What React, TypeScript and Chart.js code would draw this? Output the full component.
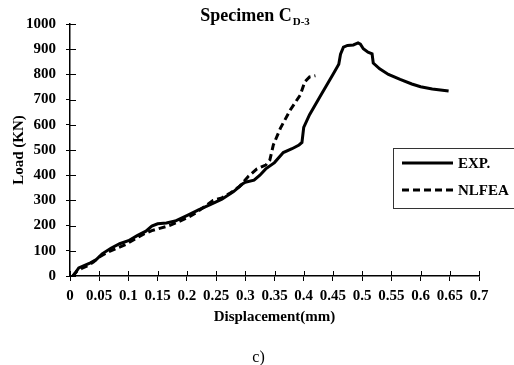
import { useEffect, useRef } from "react";
import { Chart, registerables } from "chart.js";

Chart.register(...registerables);

// Experimental load–displacement record
const expDisp = [0.005, 0.01, 0.015, 0.025, 0.035, 0.045, 0.055, 0.07, 0.085, 0.1, 0.115, 0.13, 0.14, 0.15, 0.165, 0.18, 0.2, 0.22, 0.24, 0.26, 0.28, 0.295, 0.3, 0.315, 0.325, 0.335, 0.35, 0.365, 0.38, 0.392, 0.397, 0.4, 0.41, 0.43, 0.45, 0.46, 0.463, 0.468, 0.475, 0.485, 0.493, 0.497, 0.502, 0.51, 0.517, 0.519, 0.53, 0.545, 0.565, 0.585, 0.6, 0.62, 0.648];
const expLoad = [0, 15, 32, 42, 52, 65, 88, 110, 128, 140, 160, 178, 198, 207, 210, 218, 240, 262, 283, 305, 335, 365, 372, 380, 400, 425, 450, 490, 505, 520, 530, 590, 640, 720, 800, 840, 880, 908, 915, 917, 925, 920, 902, 888, 882, 845, 822, 800, 780, 762, 751, 742, 734];

// Nonlinear finite element prediction
const feaDisp = [0.005, 0.012, 0.02, 0.03, 0.04, 0.05, 0.065, 0.08, 0.095, 0.11, 0.125, 0.14, 0.155, 0.17, 0.185, 0.2, 0.215, 0.23, 0.245, 0.26, 0.275, 0.29, 0.305, 0.32, 0.335, 0.342, 0.348, 0.36, 0.377, 0.394, 0.402, 0.41, 0.42];
const feaLoad = [0, 20, 30, 40, 55, 75, 95, 110, 125, 145, 165, 180, 190, 200, 215, 230, 250, 275, 300, 310, 330, 355, 395, 425, 440, 460, 520, 586, 659, 718, 771, 790, 795];

const xTicks = [0, 0.05, 0.1, 0.15, 0.2, 0.25, 0.3, 0.35, 0.4, 0.45, 0.5, 0.55, 0.6, 0.65, 0.7];
const yTicks = [0, 100, 200, 300, 400, 500, 600, 700, 800, 900, 1000];

const seriesNames = ["EXP.", "NLFEA"];
const titleMain = "Specimen C";
const titleSub = "D-3";
const panelTag = "c)";
const xTitle = "Displacement(mm)";
const yTitle = "Load (KN)";

const SERIF = '"Liberation Serif", "Times New Roman", serif';
const DASH = [7, 4];

const decorPlugin = {
  id: "decor",
  afterDraw(chart: any) {
    const ctx: CanvasRenderingContext2D = chart.ctx;
    const { left, right, top, bottom } = chart.chartArea;
    const xs = chart.scales.x;
    const ys = chart.scales.y;
    ctx.save();

    // inner half of the crossing tick marks
    ctx.strokeStyle = "#000";
    ctx.lineWidth = 1;
    ctx.beginPath();
    xTicks.forEach((v) => {
      const px = Math.round(xs.getPixelForValue(v)) + 0.5;
      ctx.moveTo(px, bottom);
      ctx.lineTo(px, bottom - 5);
    });
    yTicks.forEach((v) => {
      const py = Math.round(ys.getPixelForValue(v)) + 0.5;
      ctx.moveTo(left, py);
      ctx.lineTo(left + 6, py);
    });
    ctx.stroke();

    // title with subscript
    ctx.fillStyle = "#000";
    ctx.textBaseline = "alphabetic";
    ctx.textAlign = "left";
    ctx.font = `bold 18px ${SERIF}`;
    const w1 = ctx.measureText(titleMain).width;
    ctx.font = `bold 11px ${SERIF}`;
    const w2 = ctx.measureText(titleSub).width;
    const cx = (left + right) / 2 - 20;
    const x0 = cx - (w1 + w2) / 2;
    ctx.font = `bold 18px ${SERIF}`;
    ctx.fillText(titleMain, x0, top - 3);
    ctx.font = `bold 11px ${SERIF}`;
    ctx.fillText(titleSub, x0 + w1 + 1, top + 1);

    // legend box
    const bx = left + 323;
    const by = top + 124;
    ctx.strokeStyle = "#333";
    ctx.lineWidth = 1;
    ctx.strokeRect(bx + 0.5, by + 0.5, 140, 60);
    const rows = [
      { name: seriesNames[0], dash: [] as number[], y: by + 15 },
      { name: seriesNames[1], dash: DASH, y: by + 42 },
    ];
    rows.forEach((r) => {
      ctx.strokeStyle = "#000";
      ctx.lineWidth = 3;
      ctx.setLineDash(r.dash);
      ctx.beginPath();
      ctx.moveTo(bx + 9, r.y);
      ctx.lineTo(bx + 60, r.y);
      ctx.stroke();
      ctx.setLineDash([]);
      ctx.font = `bold 15px ${SERIF}`;
      ctx.textBaseline = "middle";
      ctx.fillStyle = "#000";
      ctx.fillText(r.name, bx + 65, r.y + 1);
    });

    // panel tag
    ctx.font = `16px ${SERIF}`;
    ctx.textAlign = "center";
    ctx.textBaseline = "alphabetic";
    ctx.fillText(panelTag, cx + 4, 362);

    ctx.restore();
  },
};

export default function App() {
  const canvasRef = useRef<HTMLCanvasElement | null>(null);

  useEffect(() => {
    const canvas = canvasRef.current;
    if (!canvas) return;
    const tickFont = { family: SERIF, size: 15, weight: "bold" as const };
    const chart = new Chart(canvas, {
      type: "line",
      data: {
        datasets: [
          {
            label: seriesNames[0],
            data: expDisp.map((x, i) => ({ x, y: expLoad[i] })),
            borderColor: "#000",
            borderWidth: 3,
            pointRadius: 0,
            tension: 0,
            fill: false,
          },
          {
            label: seriesNames[1],
            data: feaDisp.map((x, i) => ({ x, y: feaLoad[i] })),
            borderColor: "#000",
            borderWidth: 3,
            borderDash: DASH,
            pointRadius: 0,
            tension: 0,
            fill: false,
          },
        ],
      },
      options: {
        animation: false,
        responsive: false,
        devicePixelRatio: 1,
        layout: { padding: { left: 8, top: 24, right: 35, bottom: 39 } },
        plugins: {
          legend: { display: false },
          title: { display: false },
          tooltip: { enabled: false },
        },
        scales: {
          x: {
            type: "linear",
            min: 0,
            max: 0.7,
            afterBuildTicks: (s: any) => {
              s.ticks = xTicks.map((v) => ({ value: v }));
            },
            afterFit: (s: any) => {
              s.height = 50;
            },
            ticks: {
              color: "#000",
              font: tickFont,
              padding: 6,
              maxRotation: 0,
              autoSkip: false,
              callback: (v: any) => String(v),
            },
            grid: {
              display: true,
              drawOnChartArea: false,
              drawTicks: true,
              tickLength: 5,
              color: "#000",
              lineWidth: 1,
            },
            border: { display: true, color: "#000", width: 1.5 },
            title: {
              display: true,
              text: xTitle,
              color: "#000",
              font: { family: SERIF, size: 15, weight: "bold" },
              padding: { top: 0, bottom: 0 },
            },
          },
          y: {
            type: "linear",
            min: 0,
            max: 1000,
            afterBuildTicks: (s: any) => {
              s.ticks = yTicks.map((v) => ({ value: v }));
            },
            afterFit: (s: any) => {
              s.width = 62;
            },
            ticks: {
              color: "#000",
              font: tickFont,
              padding: 10,
              autoSkip: false,
              callback: (v: any) => String(v),
            },
            grid: {
              display: true,
              drawOnChartArea: false,
              drawTicks: true,
              tickLength: 4,
              color: "#000",
              lineWidth: 1,
            },
            border: { display: true, color: "#000", width: 1.5 },
            title: {
              display: true,
              text: yTitle,
              color: "#000",
              font: { family: SERIF, size: 15, weight: "bold" },
              padding: { top: 2, bottom: 0 },
            },
          },
        },
      },
      plugins: [decorPlugin],
    });
    return () => chart.destroy();
  }, []);

  return (
    <div
      style={{
        position: "fixed",
        left: 0,
        top: 0,
        width: 514,
        height: 365,
        background: "#fff",
      }}
    >
      <canvas ref={canvasRef} width={514} height={365} />
    </div>
  );
}
